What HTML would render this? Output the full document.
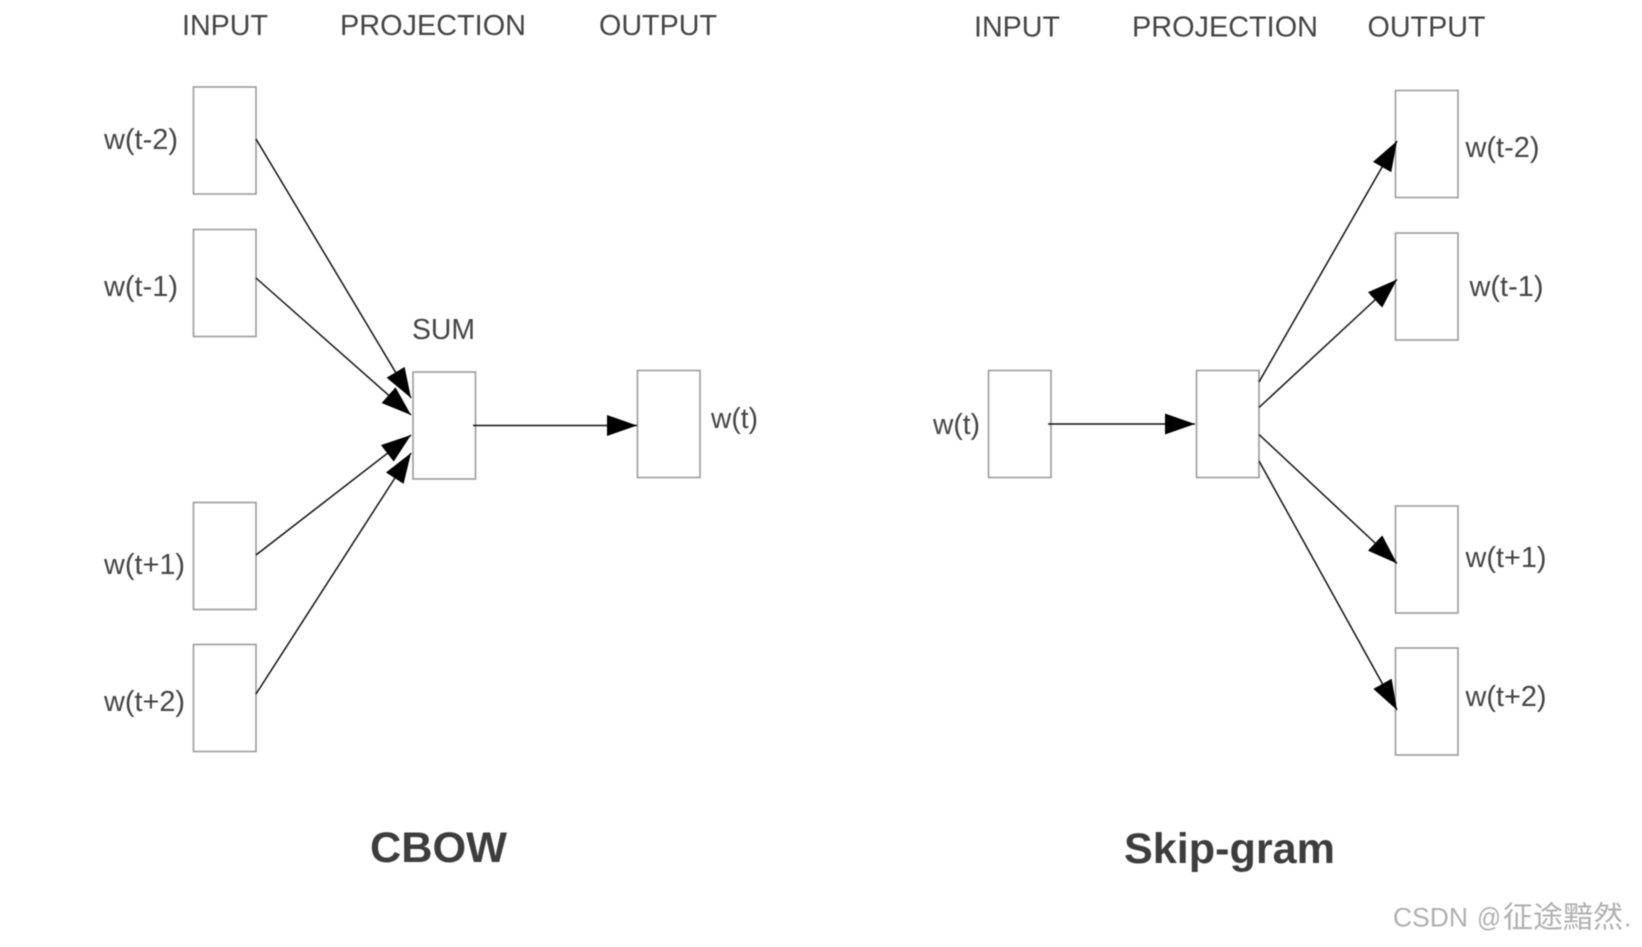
<!DOCTYPE html>
<html>
<head>
<meta charset="utf-8">
<style>
html,body{margin:0;padding:0;background:#fff;width:1642px;height:947px;overflow:hidden}
svg{display:block;filter:blur(0.5px)}
text{font-family:"Liberation Sans","Noto Sans CJK SC",sans-serif;fill:#444;font-size:28.5px}
.b{font-weight:bold;font-size:43px;fill:#3d3d3d}
rect{fill:#fff;stroke:#a0a0a0;stroke-width:1.7}
line{stroke:#111;stroke-width:1.5;marker-end:url(#a)}
</style>
</head>
<body>
<svg width="1642" height="947" viewBox="0 0 1642 947" xmlns="http://www.w3.org/2000/svg">
<defs>
<marker id="a" markerUnits="userSpaceOnUse" markerWidth="32" markerHeight="24" refX="30" refY="11" orient="auto">
<polygon points="0,0.5 30,11 0,21.5" fill="#000"/>
</marker>
</defs>

<rect x="193.5" y="87" width="62.5" height="107"/>
<rect x="193.5" y="229.5" width="62.5" height="107"/>
<rect x="193.5" y="502.5" width="62.5" height="107"/>
<rect x="193.5" y="644.5" width="62.5" height="107"/>
<rect x="413" y="372" width="62.5" height="107"/>
<rect x="637.5" y="370.5" width="62.5" height="107"/>

<rect x="988.5" y="370.5" width="62.5" height="107"/>
<rect x="1196.5" y="370.5" width="62.5" height="107"/>
<rect x="1395.5" y="90.5" width="62.5" height="107"/>
<rect x="1395.5" y="233" width="62.5" height="107"/>
<rect x="1395.5" y="506" width="62.5" height="107"/>
<rect x="1395.5" y="648" width="62.5" height="107"/>

<line x1="256" y1="139" x2="411" y2="398"/>
<line x1="256" y1="278" x2="411" y2="415"/>
<line x1="256" y1="555" x2="411" y2="435"/>
<line x1="256" y1="694" x2="411" y2="453"/>
<line x1="473" y1="425.5" x2="637" y2="425.5"/>

<line x1="1048" y1="424" x2="1195" y2="424"/>
<line x1="1259" y1="382" x2="1397" y2="141"/>
<line x1="1259" y1="407.5" x2="1397" y2="279.5"/>
<line x1="1259" y1="434.5" x2="1397" y2="563.5"/>
<line x1="1259" y1="461" x2="1397" y2="710"/>

<text x="182" y="35" textLength="86" lengthAdjust="spacingAndGlyphs">INPUT</text>
<text x="340" y="35" textLength="186" lengthAdjust="spacingAndGlyphs">PROJECTION</text>
<text x="599" y="35" textLength="118" lengthAdjust="spacingAndGlyphs">OUTPUT</text>
<text x="104" y="149" textLength="74" lengthAdjust="spacingAndGlyphs">w(t-2)</text>
<text x="104" y="296" textLength="74" lengthAdjust="spacingAndGlyphs">w(t-1)</text>
<text x="412" y="339" textLength="63" lengthAdjust="spacingAndGlyphs">SUM</text>
<text x="711" y="428" textLength="47" lengthAdjust="spacingAndGlyphs">w(t)</text>
<text x="104" y="574" textLength="81" lengthAdjust="spacingAndGlyphs">w(t+1)</text>
<text x="104" y="711" textLength="81" lengthAdjust="spacingAndGlyphs">w(t+2)</text>
<text class="b" x="370" y="862" textLength="137" lengthAdjust="spacingAndGlyphs">CBOW</text>

<text x="974" y="36.5" textLength="86" lengthAdjust="spacingAndGlyphs">INPUT</text>
<text x="1132" y="36.5" textLength="186" lengthAdjust="spacingAndGlyphs">PROJECTION</text>
<text x="1367.5" y="36.5" textLength="118" lengthAdjust="spacingAndGlyphs">OUTPUT</text>
<text x="933" y="434" textLength="47" lengthAdjust="spacingAndGlyphs">w(t)</text>
<text x="1465.5" y="157" textLength="74" lengthAdjust="spacingAndGlyphs">w(t-2)</text>
<text x="1469.5" y="296" textLength="74" lengthAdjust="spacingAndGlyphs">w(t-1)</text>
<text x="1465.5" y="567" textLength="81" lengthAdjust="spacingAndGlyphs">w(t+1)</text>
<text x="1465.5" y="706" textLength="81" lengthAdjust="spacingAndGlyphs">w(t+2)</text>
<text class="b" x="1124" y="863" textLength="211" lengthAdjust="spacingAndGlyphs">Skip-gram</text>

<text x="1393" y="926.5" textLength="75" lengthAdjust="spacingAndGlyphs" style="font-size:27px;fill:#b0b0b0">CSDN</text>
<text x="1477" y="926.5" textLength="24" lengthAdjust="spacingAndGlyphs" style="font-size:27px;fill:#b0b0b0">@</text>
<text x="1503" y="927.5" style="font-size:30px;fill:#b0b0b0">征途黯然</text>
<text x="1624" y="926.5" style="font-size:27px;fill:#b0b0b0">.</text>
</svg>
</body>
</html>
